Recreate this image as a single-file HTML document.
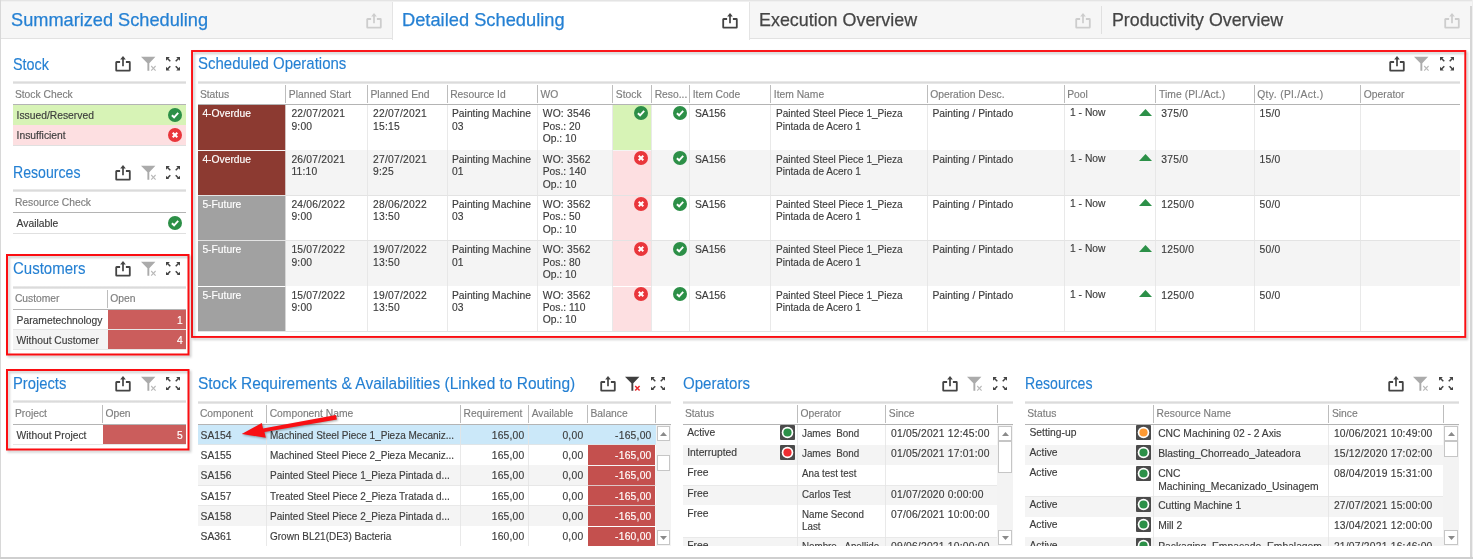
<!DOCTYPE html><html><head><meta charset="utf-8"><title>Detailed Scheduling</title><style>
html,body{margin:0;padding:0;background:#fff}body{font-family:"Liberation Sans", sans-serif;}#root{position:relative;width:1473px;height:559px;overflow:hidden;background:#fff;font-family:"Liberation Sans", sans-serif}#root div{box-sizing:border-box;position:absolute}.t,.h,.g{white-space:pre}.t{line-height:14px;font-size:10.3px;color:#3c3c3c;-webkit-text-stroke:.15px currentColor}.h{line-height:24px;font-size:17px;-webkit-text-stroke:.12px currentColor}.g{line-height:26px;font-size:19px;-webkit-text-stroke:.25px currentColor}#root svg{position:absolute}
</style></head><body><div id="root">
<div style="left:0px;top:0px;width:1473px;height:39px;background:#f6f6f6"></div>
<div style="left:0px;top:0px;width:1473px;height:1px;background:#e4e4e4"></div>
<div style="left:0px;top:1px;width:1473px;height:1px;background:#f0f0f0"></div>
<div style="left:0px;top:38px;width:1473px;height:1px;background:#e2e2e2"></div>
<div style="left:392px;top:2px;width:358px;height:38px;background:#fff;border-left:1px solid #e4e4e4;border-right:1px solid #e4e4e4"></div>
<div style="left:1101px;top:6px;width:1px;height:28px;background:#e0e0e0"></div>
<div style="left:1470px;top:6px;width:1.5px;height:552px;background:#d6d6d6"></div>
<div style="left:1471.5px;top:0px;width:2px;height:559px;background:#efefef"></div>
<div style="left:0px;top:0px;width:1px;height:559px;background:#d8d8d8"></div>
<div style="left:0px;top:557px;width:1473px;height:2px;background:#cfcfcf"></div>
<div class="g" style="top:7px;color:#2580d3;left:10.80px;transform:scaleX(0.957);transform-origin:left center;">Summarized Scheduling</div>
<svg style="left:366px;top:12.9px;opacity:1" width="17" height="17" viewBox="0 0 17 17"><path d="M5.1 6 H1.6 Q1.2 6 1.2 6.4 V14.2 Q1.2 14.6 1.6 14.6 H14.4 Q14.8 14.6 14.8 14.2 V6.4 Q14.8 6 14.4 6 H10.9" fill="none" stroke="#cdcdcd" stroke-width="1.8"/><path d="M8 2.2 V10.2" fill="none" stroke="#cdcdcd" stroke-width="1.7"/><path d="M8 0 L10.8 3.4 H5.2 Z" fill="#cdcdcd"/></svg>
<div class="g" style="top:7px;color:#2580d3;left:402.20px;transform:scaleX(0.962);transform-origin:left center;">Detailed Scheduling</div>
<svg style="left:722px;top:12.9px;opacity:1" width="17" height="17" viewBox="0 0 17 17"><path d="M5.1 6 H1.6 Q1.2 6 1.2 6.4 V14.2 Q1.2 14.6 1.6 14.6 H14.4 Q14.8 14.6 14.8 14.2 V6.4 Q14.8 6 14.4 6 H10.9" fill="none" stroke="#444" stroke-width="1.8"/><path d="M8 2.2 V10.2" fill="none" stroke="#444" stroke-width="1.7"/><path d="M8 0 L10.8 3.4 H5.2 Z" fill="#444"/></svg>
<div class="g" style="top:7px;color:#454545;left:758.60px;transform:scaleX(0.9416);transform-origin:left center;">Execution Overview</div>
<svg style="left:1075px;top:12.9px;opacity:1" width="17" height="17" viewBox="0 0 17 17"><path d="M5.1 6 H1.6 Q1.2 6 1.2 6.4 V14.2 Q1.2 14.6 1.6 14.6 H14.4 Q14.8 14.6 14.8 14.2 V6.4 Q14.8 6 14.4 6 H10.9" fill="none" stroke="#cdcdcd" stroke-width="1.8"/><path d="M8 2.2 V10.2" fill="none" stroke="#cdcdcd" stroke-width="1.7"/><path d="M8 0 L10.8 3.4 H5.2 Z" fill="#cdcdcd"/></svg>
<div class="g" style="top:7px;color:#454545;left:1111.80px;transform:scaleX(0.937);transform-origin:left center;">Productivity Overview</div>
<svg style="left:1444px;top:12.9px;opacity:1" width="17" height="17" viewBox="0 0 17 17"><path d="M5.1 6 H1.6 Q1.2 6 1.2 6.4 V14.2 Q1.2 14.6 1.6 14.6 H14.4 Q14.8 14.6 14.8 14.2 V6.4 Q14.8 6 14.4 6 H10.9" fill="none" stroke="#cdcdcd" stroke-width="1.8"/><path d="M8 2.2 V10.2" fill="none" stroke="#cdcdcd" stroke-width="1.7"/><path d="M8 0 L10.8 3.4 H5.2 Z" fill="#cdcdcd"/></svg>
<div class="h" style="top:53px;color:#2580d3;left:13.20px;transform:scaleX(0.844);transform-origin:left center;">Stock</div><svg style="left:114.9px;top:56.4px;opacity:1" width="17" height="17" viewBox="0 0 17 17"><path d="M5.1 6 H1.6 Q1.2 6 1.2 6.4 V14.2 Q1.2 14.6 1.6 14.6 H14.4 Q14.8 14.6 14.8 14.2 V6.4 Q14.8 6 14.4 6 H10.9" fill="none" stroke="#444" stroke-width="1.8"/><path d="M8 2.2 V10.2" fill="none" stroke="#444" stroke-width="1.7"/><path d="M8 0 L10.8 3.4 H5.2 Z" fill="#444"/></svg><svg style="left:140.5px;top:56.4px" width="17" height="17" viewBox="0 0 17 17"><path d="M0 0.8 H14.4 L8.3 7.2 V14.8 H6.4 V7.2 Z" fill="#ababab"/><path d="M10.2 10 L14.6 14.6 M14.6 10 L10.2 14.6" stroke="#b9b9b9" stroke-width="1.1" fill="none"/></svg><svg style="left:166.3px;top:57.3px" width="14" height="13.6" viewBox="0 0 14 13.6" fill="#444" stroke="#444" stroke-width="0"><g><path d="M0 0 H3.8 L0 3.8 Z"/><path d="M1 1 L4.3 4.3" stroke-width="1.5" fill="none"/></g><g transform="translate(14,0) scale(-1,1)"><path d="M0 0 H3.8 L0 3.8 Z"/><path d="M1 1 L4.3 4.3" stroke-width="1.5" fill="none"/></g><g transform="translate(0,13.6) scale(1,-1)"><path d="M0 0 H3.8 L0 3.8 Z"/><path d="M1 1 L4.3 4.3" stroke-width="1.5" fill="none"/></g><g transform="translate(14,13.6) scale(-1,-1)"><path d="M0 0 H3.8 L0 3.8 Z"/><path d="M1 1 L4.3 4.3" stroke-width="1.5" fill="none"/></g></svg><div style="left:13px;top:81px;width:173px;height:3px;background:linear-gradient(#f1f1f1,#dbdbdb 40%,#dbdbdb 60%,#eee)"></div><div style="left:13px;top:104px;width:173px;height:1px;background:#b4b4b4"></div><div class="t" style="top:88px;color:#7d7d7d;left:14.90px;">Stock Check</div>
<div style="left:13px;top:105px;width:173px;height:20px;background:#d7f3b6"></div>
<div style="left:13px;top:125px;width:173px;height:20px;background:#fddfe1"></div>
<div style="left:13px;top:145px;width:173px;height:1px;background:#e0e0e0"></div>
<div class="t" style="top:109px;left:16.60px;">Issued/Reserved</div>
<div class="t" style="top:129px;left:16.60px;">Insufficient</div>
<svg style="left:168px;top:107.6px" width="14" height="14" viewBox="0 0 14 14"><circle cx="7" cy="7" r="7" fill="#2c8f47"/><path d="M3.9 7.2 L6.1 9.3 L10.2 4.9" stroke="#fff" stroke-width="1.9" fill="none"/></svg>
<svg style="left:168px;top:127.9px" width="14" height="14" viewBox="0 0 14 14"><circle cx="7" cy="7" r="7" fill="#e9363b"/><path d="M4.7 4.7 L9.3 9.3 M9.3 4.7 L4.7 9.3" stroke="#fff" stroke-width="2" fill="none"/></svg>
<div class="h" style="top:161px;color:#2580d3;left:13.20px;transform:scaleX(0.83);transform-origin:left center;">Resources</div><svg style="left:114.9px;top:164.6px;opacity:1" width="17" height="17" viewBox="0 0 17 17"><path d="M5.1 6 H1.6 Q1.2 6 1.2 6.4 V14.2 Q1.2 14.6 1.6 14.6 H14.4 Q14.8 14.6 14.8 14.2 V6.4 Q14.8 6 14.4 6 H10.9" fill="none" stroke="#444" stroke-width="1.8"/><path d="M8 2.2 V10.2" fill="none" stroke="#444" stroke-width="1.7"/><path d="M8 0 L10.8 3.4 H5.2 Z" fill="#444"/></svg><svg style="left:140.5px;top:164.6px" width="17" height="17" viewBox="0 0 17 17"><path d="M0 0.8 H14.4 L8.3 7.2 V14.8 H6.4 V7.2 Z" fill="#ababab"/><path d="M10.2 10 L14.6 14.6 M14.6 10 L10.2 14.6" stroke="#b9b9b9" stroke-width="1.1" fill="none"/></svg><svg style="left:166.3px;top:165.5px" width="14" height="13.6" viewBox="0 0 14 13.6" fill="#444" stroke="#444" stroke-width="0"><g><path d="M0 0 H3.8 L0 3.8 Z"/><path d="M1 1 L4.3 4.3" stroke-width="1.5" fill="none"/></g><g transform="translate(14,0) scale(-1,1)"><path d="M0 0 H3.8 L0 3.8 Z"/><path d="M1 1 L4.3 4.3" stroke-width="1.5" fill="none"/></g><g transform="translate(0,13.6) scale(1,-1)"><path d="M0 0 H3.8 L0 3.8 Z"/><path d="M1 1 L4.3 4.3" stroke-width="1.5" fill="none"/></g><g transform="translate(14,13.6) scale(-1,-1)"><path d="M0 0 H3.8 L0 3.8 Z"/><path d="M1 1 L4.3 4.3" stroke-width="1.5" fill="none"/></g></svg><div style="left:13px;top:189px;width:173px;height:3px;background:linear-gradient(#f1f1f1,#dbdbdb 40%,#dbdbdb 60%,#eee)"></div><div style="left:13px;top:212px;width:173px;height:1px;background:#b4b4b4"></div><div class="t" style="top:196px;color:#7d7d7d;left:14.90px;">Resource Check</div>
<div class="t" style="top:217px;left:16.60px;">Available</div>
<svg style="left:168px;top:215.8px" width="14" height="14" viewBox="0 0 14 14"><circle cx="7" cy="7" r="7" fill="#2c8f47"/><path d="M3.9 7.2 L6.1 9.3 L10.2 4.9" stroke="#fff" stroke-width="1.9" fill="none"/></svg>
<div style="left:13px;top:233px;width:173px;height:1px;background:#e0e0e0"></div>
<div class="h" style="top:257px;color:#2580d3;left:13.20px;transform:scaleX(0.882);transform-origin:left center;">Customers</div><svg style="left:114.9px;top:260.9px;opacity:1" width="17" height="17" viewBox="0 0 17 17"><path d="M5.1 6 H1.6 Q1.2 6 1.2 6.4 V14.2 Q1.2 14.6 1.6 14.6 H14.4 Q14.8 14.6 14.8 14.2 V6.4 Q14.8 6 14.4 6 H10.9" fill="none" stroke="#444" stroke-width="1.8"/><path d="M8 2.2 V10.2" fill="none" stroke="#444" stroke-width="1.7"/><path d="M8 0 L10.8 3.4 H5.2 Z" fill="#444"/></svg><svg style="left:140.5px;top:260.9px" width="17" height="17" viewBox="0 0 17 17"><path d="M0 0.8 H14.4 L8.3 7.2 V14.8 H6.4 V7.2 Z" fill="#ababab"/><path d="M10.2 10 L14.6 14.6 M14.6 10 L10.2 14.6" stroke="#b9b9b9" stroke-width="1.1" fill="none"/></svg><svg style="left:166.3px;top:261.8px" width="14" height="13.6" viewBox="0 0 14 13.6" fill="#444" stroke="#444" stroke-width="0"><g><path d="M0 0 H3.8 L0 3.8 Z"/><path d="M1 1 L4.3 4.3" stroke-width="1.5" fill="none"/></g><g transform="translate(14,0) scale(-1,1)"><path d="M0 0 H3.8 L0 3.8 Z"/><path d="M1 1 L4.3 4.3" stroke-width="1.5" fill="none"/></g><g transform="translate(0,13.6) scale(1,-1)"><path d="M0 0 H3.8 L0 3.8 Z"/><path d="M1 1 L4.3 4.3" stroke-width="1.5" fill="none"/></g><g transform="translate(14,13.6) scale(-1,-1)"><path d="M0 0 H3.8 L0 3.8 Z"/><path d="M1 1 L4.3 4.3" stroke-width="1.5" fill="none"/></g></svg><div style="left:13px;top:286px;width:173px;height:3px;background:linear-gradient(#f1f1f1,#dbdbdb 40%,#dbdbdb 60%,#eee)"></div><div style="left:13px;top:309px;width:173px;height:1px;background:#b4b4b4"></div><div class="t" style="top:292px;color:#7d7d7d;left:14.90px;">Customer</div><div style="left:106.7px;top:289.9px;width:1px;height:18px;background:#bdbdbd"></div><div class="t" style="top:292px;color:#7d7d7d;left:110.20px;">Open</div><div style="left:13px;top:310px;width:173px;height:20px;background:#fff"></div><div style="left:107.5px;top:310px;width:78.5px;height:19px;background:#cb5d5c"></div><div style="left:13px;top:329px;width:173px;height:1px;background:#e6e6e6"></div><div class="t" style="top:314px;left:16.60px;">Parametechnology</div><div class="t" style="top:314px;color:#fff;right:1290.20px;text-align:right;">1</div><div style="left:13px;top:330px;width:173px;height:20px;background:#f4f4f4"></div><div style="left:107.5px;top:330px;width:78.5px;height:19px;background:#cb5d5c"></div><div style="left:13px;top:349px;width:173px;height:1px;background:#e6e6e6"></div><div class="t" style="top:334px;left:16.60px;">Without Customer</div><div class="t" style="top:334px;color:#fff;right:1290.20px;text-align:right;">4</div>
<div class="h" style="top:372px;color:#2580d3;left:13.20px;transform:scaleX(0.869);transform-origin:left center;">Projects</div><svg style="left:114.9px;top:375.79999999999995px;opacity:1" width="17" height="17" viewBox="0 0 17 17"><path d="M5.1 6 H1.6 Q1.2 6 1.2 6.4 V14.2 Q1.2 14.6 1.6 14.6 H14.4 Q14.8 14.6 14.8 14.2 V6.4 Q14.8 6 14.4 6 H10.9" fill="none" stroke="#444" stroke-width="1.8"/><path d="M8 2.2 V10.2" fill="none" stroke="#444" stroke-width="1.7"/><path d="M8 0 L10.8 3.4 H5.2 Z" fill="#444"/></svg><svg style="left:140.5px;top:375.79999999999995px" width="17" height="17" viewBox="0 0 17 17"><path d="M0 0.8 H14.4 L8.3 7.2 V14.8 H6.4 V7.2 Z" fill="#ababab"/><path d="M10.2 10 L14.6 14.6 M14.6 10 L10.2 14.6" stroke="#b9b9b9" stroke-width="1.1" fill="none"/></svg><svg style="left:166.3px;top:376.7px" width="14" height="13.6" viewBox="0 0 14 13.6" fill="#444" stroke="#444" stroke-width="0"><g><path d="M0 0 H3.8 L0 3.8 Z"/><path d="M1 1 L4.3 4.3" stroke-width="1.5" fill="none"/></g><g transform="translate(14,0) scale(-1,1)"><path d="M0 0 H3.8 L0 3.8 Z"/><path d="M1 1 L4.3 4.3" stroke-width="1.5" fill="none"/></g><g transform="translate(0,13.6) scale(1,-1)"><path d="M0 0 H3.8 L0 3.8 Z"/><path d="M1 1 L4.3 4.3" stroke-width="1.5" fill="none"/></g><g transform="translate(14,13.6) scale(-1,-1)"><path d="M0 0 H3.8 L0 3.8 Z"/><path d="M1 1 L4.3 4.3" stroke-width="1.5" fill="none"/></g></svg><div style="left:13px;top:400px;width:173px;height:3px;background:linear-gradient(#f1f1f1,#dbdbdb 40%,#dbdbdb 60%,#eee)"></div><div style="left:13px;top:424px;width:173px;height:1px;background:#b4b4b4"></div><div class="t" style="top:407px;color:#7d7d7d;left:14.90px;">Project</div><div style="left:101.9px;top:404.79999999999995px;width:1px;height:18px;background:#bdbdbd"></div><div class="t" style="top:407px;color:#7d7d7d;left:105.40px;">Open</div><div style="left:13px;top:425px;width:173px;height:20px;background:#fff"></div><div style="left:102.7px;top:425px;width:83.3px;height:19px;background:#cb5d5c"></div><div style="left:13px;top:444px;width:173px;height:1px;background:#e6e6e6"></div><div class="t" style="top:429px;left:16.60px;">Without Project</div><div class="t" style="top:429px;color:#fff;right:1290.20px;text-align:right;">5</div>
<div class="h" style="top:52px;color:#2580d3;left:197.60px;transform:scaleX(0.8815);transform-origin:left center;">Scheduled Operations</div><svg style="left:1388.6000000000001px;top:56.4px;opacity:1" width="17" height="17" viewBox="0 0 17 17"><path d="M5.1 6 H1.6 Q1.2 6 1.2 6.4 V14.2 Q1.2 14.6 1.6 14.6 H14.4 Q14.8 14.6 14.8 14.2 V6.4 Q14.8 6 14.4 6 H10.9" fill="none" stroke="#444" stroke-width="1.8"/><path d="M8 2.2 V10.2" fill="none" stroke="#444" stroke-width="1.7"/><path d="M8 0 L10.8 3.4 H5.2 Z" fill="#444"/></svg><svg style="left:1414.2px;top:56.4px" width="17" height="17" viewBox="0 0 17 17"><path d="M0 0.8 H14.4 L8.3 7.2 V14.8 H6.4 V7.2 Z" fill="#ababab"/><path d="M10.2 10 L14.6 14.6 M14.6 10 L10.2 14.6" stroke="#b9b9b9" stroke-width="1.1" fill="none"/></svg><svg style="left:1440.0px;top:57.3px" width="14" height="13.6" viewBox="0 0 14 13.6" fill="#444" stroke="#444" stroke-width="0"><g><path d="M0 0 H3.8 L0 3.8 Z"/><path d="M1 1 L4.3 4.3" stroke-width="1.5" fill="none"/></g><g transform="translate(14,0) scale(-1,1)"><path d="M0 0 H3.8 L0 3.8 Z"/><path d="M1 1 L4.3 4.3" stroke-width="1.5" fill="none"/></g><g transform="translate(0,13.6) scale(1,-1)"><path d="M0 0 H3.8 L0 3.8 Z"/><path d="M1 1 L4.3 4.3" stroke-width="1.5" fill="none"/></g><g transform="translate(14,13.6) scale(-1,-1)"><path d="M0 0 H3.8 L0 3.8 Z"/><path d="M1 1 L4.3 4.3" stroke-width="1.5" fill="none"/></g></svg>
<div style="left:198px;top:81px;width:1261.7px;height:3px;background:linear-gradient(#f1f1f1,#dbdbdb 40%,#dbdbdb 60%,#eee)"></div><div style="left:198px;top:104px;width:1261.7px;height:1px;background:#b4b4b4"></div><div class="t" style="top:88px;color:#7d7d7d;left:199.90px;">Status</div><div style="left:285.3px;top:85.4px;width:1px;height:18px;background:#bdbdbd"></div><div class="t" style="top:88px;color:#7d7d7d;left:288.80px;">Planned Start</div><div style="left:367.0px;top:85.4px;width:1px;height:18px;background:#bdbdbd"></div><div class="t" style="top:88px;color:#7d7d7d;left:370.50px;">Planned End</div><div style="left:446.7px;top:85.4px;width:1px;height:18px;background:#bdbdbd"></div><div class="t" style="top:88px;color:#7d7d7d;left:450.20px;">Resource Id</div><div style="left:537.0px;top:85.4px;width:1px;height:18px;background:#bdbdbd"></div><div class="t" style="top:88px;color:#7d7d7d;left:540.50px;">WO</div><div style="left:612.3px;top:85.4px;width:1px;height:18px;background:#bdbdbd"></div><div class="t" style="top:88px;color:#7d7d7d;left:615.80px;">Stock</div><div style="left:651.2px;top:85.4px;width:1px;height:18px;background:#bdbdbd"></div><div class="t" style="top:88px;color:#7d7d7d;left:654.70px;">Reso...</div><div style="left:689.2px;top:85.4px;width:1px;height:18px;background:#bdbdbd"></div><div class="t" style="top:88px;color:#7d7d7d;left:692.70px;">Item Code</div><div style="left:770.3px;top:85.4px;width:1px;height:18px;background:#bdbdbd"></div><div class="t" style="top:88px;color:#7d7d7d;left:773.80px;">Item Name</div><div style="left:926.7px;top:85.4px;width:1px;height:18px;background:#bdbdbd"></div><div class="t" style="top:88px;color:#7d7d7d;left:930.20px;">Operation Desc.</div><div style="left:1063.7px;top:85.4px;width:1px;height:18px;background:#bdbdbd"></div><div class="t" style="top:88px;color:#7d7d7d;left:1067.20px;">Pool</div><div style="left:1155.4px;top:85.4px;width:1px;height:18px;background:#bdbdbd"></div><div class="t" style="top:88px;color:#7d7d7d;letter-spacing:0.1px;left:1158.90px;">Time (Pl./Act.)</div><div style="left:1253.7px;top:85.4px;width:1px;height:18px;background:#bdbdbd"></div><div class="t" style="top:88px;color:#7d7d7d;letter-spacing:0.4px;left:1257.20px;">Qty. (Pl./Act.)</div><div style="left:1360.3px;top:85.4px;width:1px;height:18px;background:#bdbdbd"></div><div class="t" style="top:88px;color:#7d7d7d;left:1363.80px;">Operator</div>
<div style="left:198px;top:105.0px;width:1261.7px;height:45.3px;background:#fff"></div>
<div style="left:198px;top:105.4px;width:87.60000000000001px;height:44.699999999999996px;background:#8c3a31"></div>
<div style="left:613.0999999999999px;top:105.4px;width:38.30000000000009px;height:44.699999999999996px;background:#d7f3b6"></div>
<div class="t" style="top:107px;color:#fff;left:202.40px;">4-Overdue</div>
<div class="t" style="top:107px;letter-spacing:0.22px;left:291.40px;">22/07/2021</div>
<div class="t" style="top:120px;letter-spacing:0.22px;left:291.40px;">9:00</div>
<div class="t" style="top:107px;letter-spacing:0.22px;left:373.10px;">22/07/2021</div>
<div class="t" style="top:120px;letter-spacing:0.22px;left:373.10px;">15:15</div>
<div class="t" style="top:107px;left:452.00px;">Painting Machine</div>
<div class="t" style="top:120px;left:452.00px;">03</div>
<div class="t" style="top:107px;letter-spacing:0.22px;left:542.70px;">WO: 3546</div>
<div class="t" style="top:120px;left:542.70px;">Pos.: 20</div>
<div class="t" style="top:132px;left:542.70px;">Op.: 10</div>
<svg style="left:634.3px;top:106.0px" width="14" height="14" viewBox="0 0 14 14"><circle cx="7" cy="7" r="7" fill="#2c8f47"/><path d="M3.9 7.2 L6.1 9.3 L10.2 4.9" stroke="#fff" stroke-width="1.9" fill="none"/></svg>
<svg style="left:672.7px;top:106.0px" width="14" height="14" viewBox="0 0 14 14"><circle cx="7" cy="7" r="7" fill="#2c8f47"/><path d="M3.9 7.2 L6.1 9.3 L10.2 4.9" stroke="#fff" stroke-width="1.9" fill="none"/></svg>
<div class="t" style="top:107px;left:694.90px;">SA156</div>
<div class="t" style="top:107px;left:776.00px;transform:scaleX(0.975);transform-origin:left center;">Painted Steel Piece 1_Pieza</div>
<div class="t" style="top:120px;left:776.00px;transform:scaleX(0.975);transform-origin:left center;">Pintada de Acero 1</div>
<div class="t" style="top:107px;left:932.40px;">Painting / Pintado</div>
<div class="t" style="top:106px;left:1070.00px;">1 - Now</div>
<svg style="left:1138.9px;top:108.8px" width="13" height="7" viewBox="0 0 13 7"><path d="M6.5 0 L13 7 H0 Z" fill="#2c9048"/></svg>
<div class="t" style="top:107px;letter-spacing:0.22px;left:1161.30px;">375/0</div>
<div class="t" style="top:107px;letter-spacing:0.22px;left:1259.60px;">15/0</div>
<div style="left:198px;top:149.8px;width:1261.7px;height:1px;background:#e3e3e3"></div>
<div style="left:198px;top:150.3px;width:1261.7px;height:45.3px;background:#f4f4f4"></div>
<div style="left:198px;top:150.70000000000002px;width:87.60000000000001px;height:44.699999999999996px;background:#8c3a31"></div>
<div style="left:613.0999999999999px;top:150.70000000000002px;width:38.30000000000009px;height:44.699999999999996px;background:#fddfe1"></div>
<div class="t" style="top:153px;color:#fff;left:202.40px;">4-Overdue</div>
<div class="t" style="top:153px;letter-spacing:0.22px;left:291.40px;">26/07/2021</div>
<div class="t" style="top:165px;letter-spacing:0.22px;left:291.40px;">11:10</div>
<div class="t" style="top:153px;letter-spacing:0.22px;left:373.10px;">27/07/2021</div>
<div class="t" style="top:165px;letter-spacing:0.22px;left:373.10px;">9:25</div>
<div class="t" style="top:153px;left:452.00px;">Painting Machine</div>
<div class="t" style="top:165px;left:452.00px;">01</div>
<div class="t" style="top:153px;letter-spacing:0.22px;left:542.70px;">WO: 3562</div>
<div class="t" style="top:165px;left:542.70px;">Pos.: 140</div>
<div class="t" style="top:178px;left:542.70px;">Op.: 10</div>
<svg style="left:634.3px;top:151.3px" width="14" height="14" viewBox="0 0 14 14"><circle cx="7" cy="7" r="7" fill="#e9363b"/><path d="M4.7 4.7 L9.3 9.3 M9.3 4.7 L4.7 9.3" stroke="#fff" stroke-width="2" fill="none"/></svg>
<svg style="left:672.7px;top:151.3px" width="14" height="14" viewBox="0 0 14 14"><circle cx="7" cy="7" r="7" fill="#2c8f47"/><path d="M3.9 7.2 L6.1 9.3 L10.2 4.9" stroke="#fff" stroke-width="1.9" fill="none"/></svg>
<div class="t" style="top:153px;left:694.90px;">SA156</div>
<div class="t" style="top:153px;left:776.00px;transform:scaleX(0.975);transform-origin:left center;">Painted Steel Piece 1_Pieza</div>
<div class="t" style="top:165px;left:776.00px;transform:scaleX(0.975);transform-origin:left center;">Pintada de Acero 1</div>
<div class="t" style="top:153px;left:932.40px;">Painting / Pintado</div>
<div class="t" style="top:152px;left:1070.00px;">1 - Now</div>
<svg style="left:1138.9px;top:154.10000000000002px" width="13" height="7" viewBox="0 0 13 7"><path d="M6.5 0 L13 7 H0 Z" fill="#2c9048"/></svg>
<div class="t" style="top:153px;letter-spacing:0.22px;left:1161.30px;">375/0</div>
<div class="t" style="top:153px;letter-spacing:0.22px;left:1259.60px;">15/0</div>
<div style="left:198px;top:195.10000000000002px;width:1261.7px;height:1px;background:#e3e3e3"></div>
<div style="left:198px;top:195.6px;width:1261.7px;height:45.3px;background:#fff"></div>
<div style="left:198px;top:196.0px;width:87.60000000000001px;height:44.699999999999996px;background:#a1a1a1"></div>
<div style="left:613.0999999999999px;top:196.0px;width:38.30000000000009px;height:44.699999999999996px;background:#fddfe1"></div>
<div class="t" style="top:198px;color:#fff;left:202.40px;">5-Future</div>
<div class="t" style="top:198px;letter-spacing:0.22px;left:291.40px;">24/06/2022</div>
<div class="t" style="top:210px;letter-spacing:0.22px;left:291.40px;">9:00</div>
<div class="t" style="top:198px;letter-spacing:0.22px;left:373.10px;">28/06/2022</div>
<div class="t" style="top:210px;letter-spacing:0.22px;left:373.10px;">13:50</div>
<div class="t" style="top:198px;left:452.00px;">Painting Machine</div>
<div class="t" style="top:210px;left:452.00px;">03</div>
<div class="t" style="top:198px;letter-spacing:0.22px;left:542.70px;">WO: 3562</div>
<div class="t" style="top:210px;left:542.70px;">Pos.: 50</div>
<div class="t" style="top:223px;left:542.70px;">Op.: 10</div>
<svg style="left:634.3px;top:196.6px" width="14" height="14" viewBox="0 0 14 14"><circle cx="7" cy="7" r="7" fill="#e9363b"/><path d="M4.7 4.7 L9.3 9.3 M9.3 4.7 L4.7 9.3" stroke="#fff" stroke-width="2" fill="none"/></svg>
<svg style="left:672.7px;top:196.6px" width="14" height="14" viewBox="0 0 14 14"><circle cx="7" cy="7" r="7" fill="#2c8f47"/><path d="M3.9 7.2 L6.1 9.3 L10.2 4.9" stroke="#fff" stroke-width="1.9" fill="none"/></svg>
<div class="t" style="top:198px;left:694.90px;">SA156</div>
<div class="t" style="top:198px;left:776.00px;transform:scaleX(0.975);transform-origin:left center;">Painted Steel Piece 1_Pieza</div>
<div class="t" style="top:210px;left:776.00px;transform:scaleX(0.975);transform-origin:left center;">Pintada de Acero 1</div>
<div class="t" style="top:198px;left:932.40px;">Painting / Pintado</div>
<div class="t" style="top:197px;left:1070.00px;">1 - Now</div>
<svg style="left:1138.9px;top:199.4px" width="13" height="7" viewBox="0 0 13 7"><path d="M6.5 0 L13 7 H0 Z" fill="#2c9048"/></svg>
<div class="t" style="top:198px;letter-spacing:0.22px;left:1161.30px;">1250/0</div>
<div class="t" style="top:198px;letter-spacing:0.22px;left:1259.60px;">50/0</div>
<div style="left:198px;top:240.39999999999998px;width:1261.7px;height:1px;background:#e3e3e3"></div>
<div style="left:198px;top:240.89999999999998px;width:1261.7px;height:45.3px;background:#f4f4f4"></div>
<div style="left:198px;top:241.29999999999998px;width:87.60000000000001px;height:44.699999999999996px;background:#a1a1a1"></div>
<div style="left:613.0999999999999px;top:241.29999999999998px;width:38.30000000000009px;height:44.699999999999996px;background:#fddfe1"></div>
<div class="t" style="top:243px;color:#fff;left:202.40px;">5-Future</div>
<div class="t" style="top:243px;letter-spacing:0.22px;left:291.40px;">15/07/2022</div>
<div class="t" style="top:256px;letter-spacing:0.22px;left:291.40px;">9:00</div>
<div class="t" style="top:243px;letter-spacing:0.22px;left:373.10px;">19/07/2022</div>
<div class="t" style="top:256px;letter-spacing:0.22px;left:373.10px;">13:50</div>
<div class="t" style="top:243px;left:452.00px;">Painting Machine</div>
<div class="t" style="top:256px;left:452.00px;">01</div>
<div class="t" style="top:243px;letter-spacing:0.22px;left:542.70px;">WO: 3562</div>
<div class="t" style="top:256px;left:542.70px;">Pos.: 80</div>
<div class="t" style="top:268px;left:542.70px;">Op.: 10</div>
<svg style="left:634.3px;top:241.89999999999998px" width="14" height="14" viewBox="0 0 14 14"><circle cx="7" cy="7" r="7" fill="#e9363b"/><path d="M4.7 4.7 L9.3 9.3 M9.3 4.7 L4.7 9.3" stroke="#fff" stroke-width="2" fill="none"/></svg>
<svg style="left:672.7px;top:241.89999999999998px" width="14" height="14" viewBox="0 0 14 14"><circle cx="7" cy="7" r="7" fill="#2c8f47"/><path d="M3.9 7.2 L6.1 9.3 L10.2 4.9" stroke="#fff" stroke-width="1.9" fill="none"/></svg>
<div class="t" style="top:243px;left:694.90px;">SA156</div>
<div class="t" style="top:243px;left:776.00px;transform:scaleX(0.975);transform-origin:left center;">Painted Steel Piece 1_Pieza</div>
<div class="t" style="top:256px;left:776.00px;transform:scaleX(0.975);transform-origin:left center;">Pintada de Acero 1</div>
<div class="t" style="top:243px;left:932.40px;">Painting / Pintado</div>
<div class="t" style="top:242px;left:1070.00px;">1 - Now</div>
<svg style="left:1138.9px;top:244.7px" width="13" height="7" viewBox="0 0 13 7"><path d="M6.5 0 L13 7 H0 Z" fill="#2c9048"/></svg>
<div class="t" style="top:243px;letter-spacing:0.22px;left:1161.30px;">1250/0</div>
<div class="t" style="top:243px;letter-spacing:0.22px;left:1259.60px;">50/0</div>
<div style="left:198px;top:285.7px;width:1261.7px;height:1px;background:#e3e3e3"></div>
<div style="left:198px;top:286.2px;width:1261.7px;height:45.3px;background:#fff"></div>
<div style="left:198px;top:286.59999999999997px;width:87.60000000000001px;height:44.699999999999996px;background:#a1a1a1"></div>
<div style="left:613.0999999999999px;top:286.59999999999997px;width:38.30000000000009px;height:44.699999999999996px;background:#fddfe1"></div>
<div class="t" style="top:289px;color:#fff;left:202.40px;">5-Future</div>
<div class="t" style="top:289px;letter-spacing:0.22px;left:291.40px;">15/07/2022</div>
<div class="t" style="top:301px;letter-spacing:0.22px;left:291.40px;">9:00</div>
<div class="t" style="top:289px;letter-spacing:0.22px;left:373.10px;">19/07/2022</div>
<div class="t" style="top:301px;letter-spacing:0.22px;left:373.10px;">13:50</div>
<div class="t" style="top:289px;left:452.00px;">Painting Machine</div>
<div class="t" style="top:301px;left:452.00px;">03</div>
<div class="t" style="top:289px;letter-spacing:0.22px;left:542.70px;">WO: 3562</div>
<div class="t" style="top:301px;left:542.70px;">Pos.: 110</div>
<div class="t" style="top:313px;left:542.70px;">Op.: 10</div>
<svg style="left:634.3px;top:287.2px" width="14" height="14" viewBox="0 0 14 14"><circle cx="7" cy="7" r="7" fill="#e9363b"/><path d="M4.7 4.7 L9.3 9.3 M9.3 4.7 L4.7 9.3" stroke="#fff" stroke-width="2" fill="none"/></svg>
<svg style="left:672.7px;top:287.2px" width="14" height="14" viewBox="0 0 14 14"><circle cx="7" cy="7" r="7" fill="#2c8f47"/><path d="M3.9 7.2 L6.1 9.3 L10.2 4.9" stroke="#fff" stroke-width="1.9" fill="none"/></svg>
<div class="t" style="top:289px;left:694.90px;">SA156</div>
<div class="t" style="top:289px;left:776.00px;transform:scaleX(0.975);transform-origin:left center;">Painted Steel Piece 1_Pieza</div>
<div class="t" style="top:301px;left:776.00px;transform:scaleX(0.975);transform-origin:left center;">Pintada de Acero 1</div>
<div class="t" style="top:289px;left:932.40px;">Painting / Pintado</div>
<div class="t" style="top:288px;left:1070.00px;">1 - Now</div>
<svg style="left:1138.9px;top:290.0px" width="13" height="7" viewBox="0 0 13 7"><path d="M6.5 0 L13 7 H0 Z" fill="#2c9048"/></svg>
<div class="t" style="top:289px;letter-spacing:0.22px;left:1161.30px;">1250/0</div>
<div class="t" style="top:289px;letter-spacing:0.22px;left:1259.60px;">50/0</div>
<div style="left:198px;top:331.0px;width:1261.7px;height:1px;background:#e3e3e3"></div>
<div style="left:285.3px;top:105px;width:1px;height:226.5px;background:#e3e3e3;opacity:.8"></div>
<div style="left:367.0px;top:105px;width:1px;height:226.5px;background:#e3e3e3;opacity:.8"></div>
<div style="left:446.7px;top:105px;width:1px;height:226.5px;background:#e3e3e3;opacity:.8"></div>
<div style="left:537.0px;top:105px;width:1px;height:226.5px;background:#e3e3e3;opacity:.8"></div>
<div style="left:612.3px;top:105px;width:1px;height:226.5px;background:#e3e3e3;opacity:.8"></div>
<div style="left:651.2px;top:105px;width:1px;height:226.5px;background:#e3e3e3;opacity:.8"></div>
<div style="left:689.2px;top:105px;width:1px;height:226.5px;background:#e3e3e3;opacity:.8"></div>
<div style="left:770.3px;top:105px;width:1px;height:226.5px;background:#e3e3e3;opacity:.8"></div>
<div style="left:926.7px;top:105px;width:1px;height:226.5px;background:#e3e3e3;opacity:.8"></div>
<div style="left:1063.7px;top:105px;width:1px;height:226.5px;background:#e3e3e3;opacity:.8"></div>
<div style="left:1155.4px;top:105px;width:1px;height:226.5px;background:#e3e3e3;opacity:.8"></div>
<div style="left:1253.7px;top:105px;width:1px;height:226.5px;background:#e3e3e3;opacity:.8"></div>
<div style="left:1360.3px;top:105px;width:1px;height:226.5px;background:#e3e3e3;opacity:.8"></div>
<svg style="left:185.9px;top:44.95px;overflow:visible" width="1285.3" height="297.95" viewBox="0 0 1285.3 297.95"><rect x="7.7" y="7.9" width="1273.3" height="285.95" fill="none" stroke="#000" stroke-opacity=".2" stroke-width="2.2" style="filter:blur(.8px)"/><rect x="6" y="6" width="1273.3" height="285.95" fill="none" stroke="#fb0d11" stroke-width="1.9"/></svg>
<svg style="left:1px;top:249.4px;overflow:visible" width="193.5" height="111.49999999999997" viewBox="0 0 193.5 111.49999999999997"><rect x="7.7" y="7.9" width="181.5" height="99.49999999999997" fill="none" stroke="#000" stroke-opacity=".2" stroke-width="2.2" style="filter:blur(.8px)"/><rect x="6" y="6" width="181.5" height="99.49999999999997" fill="none" stroke="#fb0d11" stroke-width="2"/></svg>
<svg style="left:1px;top:363.6px;overflow:visible" width="193.5" height="91.5" viewBox="0 0 193.5 91.5"><rect x="7.7" y="7.9" width="181.5" height="79.5" fill="none" stroke="#000" stroke-opacity=".2" stroke-width="2.2" style="filter:blur(.8px)"/><rect x="6" y="6" width="181.5" height="79.5" fill="none" stroke="#fb0d11" stroke-width="2"/></svg>
<div class="h" style="top:372px;color:#2580d3;left:197.60px;transform:scaleX(0.91);transform-origin:left center;">Stock Requirements &amp; Availabilities (Linked to Routing)</div><svg style="left:599.5999999999999px;top:375.79999999999995px;opacity:1" width="17" height="17" viewBox="0 0 17 17"><path d="M5.1 6 H1.6 Q1.2 6 1.2 6.4 V14.2 Q1.2 14.6 1.6 14.6 H14.4 Q14.8 14.6 14.8 14.2 V6.4 Q14.8 6 14.4 6 H10.9" fill="none" stroke="#444" stroke-width="1.8"/><path d="M8 2.2 V10.2" fill="none" stroke="#444" stroke-width="1.7"/><path d="M8 0 L10.8 3.4 H5.2 Z" fill="#444"/></svg><svg style="left:625.1999999999999px;top:375.79999999999995px" width="17" height="17" viewBox="0 0 17 17"><path d="M0 0.8 H14.4 L8.3 7.2 V14.8 H6.4 V7.2 Z" fill="#3f3f3f"/><path d="M10.2 10 L14.6 14.6 M14.6 10 L10.2 14.6" stroke="#e8282c" stroke-width="1.5" fill="none"/></svg><svg style="left:650.9999999999999px;top:376.7px" width="14" height="13.6" viewBox="0 0 14 13.6" fill="#444" stroke="#444" stroke-width="0"><g><path d="M0 0 H3.8 L0 3.8 Z"/><path d="M1 1 L4.3 4.3" stroke-width="1.5" fill="none"/></g><g transform="translate(14,0) scale(-1,1)"><path d="M0 0 H3.8 L0 3.8 Z"/><path d="M1 1 L4.3 4.3" stroke-width="1.5" fill="none"/></g><g transform="translate(0,13.6) scale(1,-1)"><path d="M0 0 H3.8 L0 3.8 Z"/><path d="M1 1 L4.3 4.3" stroke-width="1.5" fill="none"/></g><g transform="translate(14,13.6) scale(-1,-1)"><path d="M0 0 H3.8 L0 3.8 Z"/><path d="M1 1 L4.3 4.3" stroke-width="1.5" fill="none"/></g></svg>
<div style="left:198px;top:401px;width:473.29999999999995px;height:3px;background:linear-gradient(#f1f1f1,#dbdbdb 40%,#dbdbdb 60%,#eee)"></div><div style="left:198px;top:424px;width:473.29999999999995px;height:1px;background:#b4b4b4"></div><div class="t" style="top:407px;color:#7d7d7d;left:199.90px;">Component</div><div style="left:266.2px;top:405.2px;width:1px;height:18px;background:#bdbdbd"></div><div class="t" style="top:407px;color:#7d7d7d;left:269.70px;">Component Name</div><div style="left:460.0px;top:405.2px;width:1px;height:18px;background:#bdbdbd"></div><div class="t" style="top:407px;color:#7d7d7d;left:463.50px;">Requirement</div><div style="left:528.2px;top:405.2px;width:1px;height:18px;background:#bdbdbd"></div><div class="t" style="top:407px;color:#7d7d7d;left:531.70px;">Available</div><div style="left:587.0px;top:405.2px;width:1px;height:18px;background:#bdbdbd"></div><div class="t" style="top:407px;color:#7d7d7d;left:590.50px;">Balance</div>
<div style="left:655.0px;top:405.2px;width:1px;height:18px;background:#bdbdbd"></div>
<div style="position:absolute;left:0;top:0;width:1473px;height:546px;overflow:hidden">
<div style="left:198px;top:424.6px;width:457.5px;height:20.33px;background:#cbe8f9"></div>
<div style="left:198px;top:444.43px;width:457.5px;height:1px;background:#e3e3e3;opacity:.8"></div>
<div class="t" style="top:429px;left:200.60px;">SA154</div>
<div class="t" style="top:429px;left:270.30px;transform:scaleX(0.972);transform-origin:left center;">Machined Steel Piece 1_Pieza Mecaniz...</div>
<div class="t" style="top:429px;letter-spacing:0.22px;right:948.48px;text-align:right;">165,00</div>
<div class="t" style="top:429px;letter-spacing:0.22px;right:889.68px;text-align:right;">0,00</div>
<div class="t" style="top:429px;letter-spacing:0.22px;right:821.48px;text-align:right;">-165,00</div>
<div style="left:198px;top:444.93px;width:457.5px;height:20.33px;background:#fff"></div>
<div style="left:587.8px;top:445.23px;width:67.7px;height:20.029999999999998px;background:#c4504e"></div>
<div style="left:198px;top:464.76px;width:457.5px;height:1px;background:#e3e3e3;opacity:.8"></div>
<div class="t" style="top:449px;left:200.60px;">SA155</div>
<div class="t" style="top:449px;left:270.30px;transform:scaleX(0.972);transform-origin:left center;">Machined Steel Piece 2_Pieza Mecaniz...</div>
<div class="t" style="top:449px;letter-spacing:0.22px;right:948.48px;text-align:right;">165,00</div>
<div class="t" style="top:449px;letter-spacing:0.22px;right:889.68px;text-align:right;">0,00</div>
<div class="t" style="top:449px;color:#fff;letter-spacing:0.22px;right:821.48px;text-align:right;">-165,00</div>
<div style="left:198px;top:465.26px;width:457.5px;height:20.33px;background:#f4f4f4"></div>
<div style="left:587.8px;top:465.56px;width:67.7px;height:20.029999999999998px;background:#c4504e"></div>
<div style="left:198px;top:485.09px;width:457.5px;height:1px;background:#e3e3e3;opacity:.8"></div>
<div class="t" style="top:469px;left:200.60px;">SA156</div>
<div class="t" style="top:469px;left:270.30px;transform:scaleX(0.972);transform-origin:left center;">Painted Steel Piece 1_Pieza Pintada d...</div>
<div class="t" style="top:469px;letter-spacing:0.22px;right:948.48px;text-align:right;">165,00</div>
<div class="t" style="top:469px;letter-spacing:0.22px;right:889.68px;text-align:right;">0,00</div>
<div class="t" style="top:469px;color:#fff;letter-spacing:0.22px;right:821.48px;text-align:right;">-165,00</div>
<div style="left:198px;top:485.59000000000003px;width:457.5px;height:20.33px;background:#fff"></div>
<div style="left:587.8px;top:485.89000000000004px;width:67.7px;height:20.029999999999998px;background:#c4504e"></div>
<div style="left:198px;top:505.42px;width:457.5px;height:1px;background:#e3e3e3;opacity:.8"></div>
<div class="t" style="top:490px;left:200.60px;">SA157</div>
<div class="t" style="top:490px;left:270.30px;transform:scaleX(0.972);transform-origin:left center;">Treated Steel Piece 2_Pieza Tratada d...</div>
<div class="t" style="top:490px;letter-spacing:0.22px;right:948.48px;text-align:right;">165,00</div>
<div class="t" style="top:490px;letter-spacing:0.22px;right:889.68px;text-align:right;">0,00</div>
<div class="t" style="top:490px;color:#fff;letter-spacing:0.22px;right:821.48px;text-align:right;">-165,00</div>
<div style="left:198px;top:505.92px;width:457.5px;height:20.33px;background:#f4f4f4"></div>
<div style="left:587.8px;top:506.22px;width:67.7px;height:20.029999999999998px;background:#c4504e"></div>
<div style="left:198px;top:525.75px;width:457.5px;height:1px;background:#e3e3e3;opacity:.8"></div>
<div class="t" style="top:510px;left:200.60px;">SA158</div>
<div class="t" style="top:510px;left:270.30px;transform:scaleX(0.972);transform-origin:left center;">Painted Steel Piece 2_Pieza Pintada d...</div>
<div class="t" style="top:510px;letter-spacing:0.22px;right:948.48px;text-align:right;">165,00</div>
<div class="t" style="top:510px;letter-spacing:0.22px;right:889.68px;text-align:right;">0,00</div>
<div class="t" style="top:510px;color:#fff;letter-spacing:0.22px;right:821.48px;text-align:right;">-165,00</div>
<div style="left:198px;top:526.25px;width:457.5px;height:20.33px;background:#fff"></div>
<div style="left:587.8px;top:526.55px;width:67.7px;height:20.029999999999998px;background:#c4504e"></div>
<div class="t" style="top:530px;left:200.60px;">SA361</div>
<div class="t" style="top:530px;left:270.30px;transform:scaleX(0.972);transform-origin:left center;">Grown BL21(DE3) Bacteria</div>
<div class="t" style="top:530px;letter-spacing:0.22px;right:948.48px;text-align:right;">160,00</div>
<div class="t" style="top:530px;letter-spacing:0.22px;right:889.68px;text-align:right;">0,00</div>
<div class="t" style="top:530px;color:#fff;letter-spacing:0.22px;right:821.48px;text-align:right;">-160,00</div>
<div style="left:266.2px;top:425px;width:1px;height:121.97999999999999px;background:#e3e3e3;opacity:.8"></div>
<div style="left:460.0px;top:425px;width:1px;height:121.97999999999999px;background:#e3e3e3;opacity:.8"></div>
<div style="left:528.2px;top:425px;width:1px;height:121.97999999999999px;background:#e3e3e3;opacity:.8"></div>
<div style="left:656px;top:425px;width:15px;height:121px;background:#f3f3f3"></div><div style="left:657px;top:426px;width:13px;height:15px;background:#fff;border:1px solid #c6c6c6"></div><div style="left:657px;top:530px;width:13px;height:15px;background:#fff;border:1px solid #c6c6c6"></div><div style="left:657px;top:455px;width:13px;height:16px;background:#fff;border:1px solid #c6c6c6"></div><svg style="left:660.0px;top:431.6px" width="7" height="4" viewBox="0 0 7 4"><path d="M3.5 0 L7 4 H0 Z" fill="#8a8a8a"/></svg><svg style="left:660.0px;top:535.8px" width="7" height="4" viewBox="0 0 7 4"><path d="M0 0 H7 L3.5 4 Z" fill="#8a8a8a"/></svg>
<div class="h" style="top:372px;color:#2580d3;left:682.60px;transform:scaleX(0.886);transform-origin:left center;">Operators</div><svg style="left:941.6999999999999px;top:375.79999999999995px;opacity:1" width="17" height="17" viewBox="0 0 17 17"><path d="M5.1 6 H1.6 Q1.2 6 1.2 6.4 V14.2 Q1.2 14.6 1.6 14.6 H14.4 Q14.8 14.6 14.8 14.2 V6.4 Q14.8 6 14.4 6 H10.9" fill="none" stroke="#444" stroke-width="1.8"/><path d="M8 2.2 V10.2" fill="none" stroke="#444" stroke-width="1.7"/><path d="M8 0 L10.8 3.4 H5.2 Z" fill="#444"/></svg><svg style="left:967.3px;top:375.79999999999995px" width="17" height="17" viewBox="0 0 17 17"><path d="M0 0.8 H14.4 L8.3 7.2 V14.8 H6.4 V7.2 Z" fill="#ababab"/><path d="M10.2 10 L14.6 14.6 M14.6 10 L10.2 14.6" stroke="#b9b9b9" stroke-width="1.1" fill="none"/></svg><svg style="left:993.0999999999999px;top:376.7px" width="14" height="13.6" viewBox="0 0 14 13.6" fill="#444" stroke="#444" stroke-width="0"><g><path d="M0 0 H3.8 L0 3.8 Z"/><path d="M1 1 L4.3 4.3" stroke-width="1.5" fill="none"/></g><g transform="translate(14,0) scale(-1,1)"><path d="M0 0 H3.8 L0 3.8 Z"/><path d="M1 1 L4.3 4.3" stroke-width="1.5" fill="none"/></g><g transform="translate(0,13.6) scale(1,-1)"><path d="M0 0 H3.8 L0 3.8 Z"/><path d="M1 1 L4.3 4.3" stroke-width="1.5" fill="none"/></g><g transform="translate(14,13.6) scale(-1,-1)"><path d="M0 0 H3.8 L0 3.8 Z"/><path d="M1 1 L4.3 4.3" stroke-width="1.5" fill="none"/></g></svg>
<div style="left:683px;top:401px;width:329.79999999999995px;height:3px;background:linear-gradient(#f1f1f1,#dbdbdb 40%,#dbdbdb 60%,#eee)"></div><div style="left:683px;top:424px;width:329.79999999999995px;height:1px;background:#b4b4b4"></div><div class="t" style="top:407px;color:#7d7d7d;left:684.90px;">Status</div><div style="left:797.0px;top:405.2px;width:1px;height:18px;background:#bdbdbd"></div><div class="t" style="top:407px;color:#7d7d7d;left:800.50px;">Operator</div><div style="left:885.3px;top:405.2px;width:1px;height:18px;background:#bdbdbd"></div><div class="t" style="top:407px;color:#7d7d7d;left:888.80px;">Since</div>
<div style="left:997.0px;top:405.2px;width:1px;height:18px;background:#bdbdbd"></div>
<div style="left:683px;top:425px;width:314.5px;height:20.1px;background:#fff"></div>
<div style="left:683px;top:444.6px;width:314.5px;height:1px;background:#e3e3e3;opacity:.8"></div>
<div class="t" style="top:426px;left:687.20px;">Active</div>
<svg style="left:779.6px;top:425.3px" width="15" height="15" viewBox="0 0 15 15"><rect width="15" height="15" rx="1" fill="#4b4b4b"/><circle cx="7.5" cy="7.5" r="5.8" fill="#fff"/><circle cx="7.5" cy="7.5" r="4.1" fill="#2c9048"/></svg>
<div class="t" style="top:427px;left:802.30px;transform:scaleX(0.95);transform-origin:left center;">James  Bond</div>
<div class="t" style="top:427px;letter-spacing:0.22px;left:891.00px;">01/05/2021 12:45:00</div>
<div style="left:683px;top:445.1px;width:314.5px;height:20.2px;background:#f4f4f4"></div>
<div style="left:683px;top:464.8px;width:314.5px;height:1px;background:#e3e3e3;opacity:.8"></div>
<div class="t" style="top:446px;left:687.20px;">Interrupted</div>
<svg style="left:779.6px;top:445.40000000000003px" width="15" height="15" viewBox="0 0 15 15"><rect width="15" height="15" rx="1" fill="#4b4b4b"/><circle cx="7.5" cy="7.5" r="5.8" fill="#fff"/><circle cx="7.5" cy="7.5" r="4.1" fill="#ee2d32"/></svg>
<div class="t" style="top:447px;left:802.30px;transform:scaleX(0.95);transform-origin:left center;">James  Bond</div>
<div class="t" style="top:447px;letter-spacing:0.22px;left:891.00px;">01/05/2021 17:01:00</div>
<div style="left:683px;top:465.3px;width:314.5px;height:20.3px;background:#fff"></div>
<div style="left:683px;top:485.1px;width:314.5px;height:1px;background:#e3e3e3;opacity:.8"></div>
<div class="t" style="top:466px;left:687.20px;">Free</div>
<div class="t" style="top:467px;left:802.30px;transform:scaleX(0.95);transform-origin:left center;">Ana test test</div>
<div class="t" style="top:467px;left:891.00px;"></div>
<div style="left:683px;top:485.6px;width:314.5px;height:19.8px;background:#f4f4f4"></div>
<div style="left:683px;top:504.90000000000003px;width:314.5px;height:1px;background:#e3e3e3;opacity:.8"></div>
<div class="t" style="top:487px;left:687.20px;">Free</div>
<div class="t" style="top:488px;left:802.30px;transform:scaleX(0.95);transform-origin:left center;">Carlos Test</div>
<div class="t" style="top:488px;letter-spacing:0.22px;left:891.00px;">01/07/2020 0:00:00</div>
<div style="left:683px;top:505.40000000000003px;width:314.5px;height:32.3px;background:#fff"></div>
<div style="left:683px;top:537.2px;width:314.5px;height:1px;background:#e3e3e3;opacity:.8"></div>
<div class="t" style="top:507px;left:687.20px;">Free</div>
<div class="t" style="top:508px;left:802.30px;transform:scaleX(0.95);transform-origin:left center;">Name Second</div>
<div class="t" style="top:520px;left:802.30px;transform:scaleX(0.95);transform-origin:left center;">Last</div>
<div class="t" style="top:508px;letter-spacing:0.22px;left:891.00px;">07/06/2021 10:00:00</div>
<div style="left:683px;top:537.7px;width:314.5px;height:20px;background:#f4f4f4"></div>
<div style="left:683px;top:557.2px;width:314.5px;height:1px;background:#e3e3e3;opacity:.8"></div>
<div class="t" style="top:539px;left:687.20px;">Free</div>
<div class="t" style="top:540px;left:802.30px;transform:scaleX(0.95);transform-origin:left center;">Nombre   Apellido</div>
<div class="t" style="top:540px;letter-spacing:0.22px;left:891.00px;">09/06/2021 10:00:00</div>
<div style="left:797.0px;top:425px;width:1px;height:125px;background:#e3e3e3;opacity:.8"></div>
<div style="left:885.3px;top:425px;width:1px;height:125px;background:#e3e3e3;opacity:.8"></div>
<div style="left:997px;top:425px;width:16px;height:121px;background:#f3f3f3"></div><div style="left:998px;top:426px;width:14px;height:15px;background:#fff;border:1px solid #c6c6c6"></div><div style="left:998px;top:530px;width:14px;height:15px;background:#fff;border:1px solid #c6c6c6"></div><div style="left:998px;top:441px;width:14px;height:32px;background:#fff;border:1px solid #c6c6c6"></div><svg style="left:1001.5px;top:431.6px" width="7" height="4" viewBox="0 0 7 4"><path d="M3.5 0 L7 4 H0 Z" fill="#8a8a8a"/></svg><svg style="left:1001.5px;top:535.8px" width="7" height="4" viewBox="0 0 7 4"><path d="M0 0 H7 L3.5 4 Z" fill="#8a8a8a"/></svg>
<div class="h" style="top:372px;color:#2580d3;left:1024.80px;transform:scaleX(0.83);transform-origin:left center;">Resources</div><svg style="left:1387.7px;top:375.79999999999995px;opacity:1" width="17" height="17" viewBox="0 0 17 17"><path d="M5.1 6 H1.6 Q1.2 6 1.2 6.4 V14.2 Q1.2 14.6 1.6 14.6 H14.4 Q14.8 14.6 14.8 14.2 V6.4 Q14.8 6 14.4 6 H10.9" fill="none" stroke="#444" stroke-width="1.8"/><path d="M8 2.2 V10.2" fill="none" stroke="#444" stroke-width="1.7"/><path d="M8 0 L10.8 3.4 H5.2 Z" fill="#444"/></svg><svg style="left:1413.3px;top:375.79999999999995px" width="17" height="17" viewBox="0 0 17 17"><path d="M0 0.8 H14.4 L8.3 7.2 V14.8 H6.4 V7.2 Z" fill="#ababab"/><path d="M10.2 10 L14.6 14.6 M14.6 10 L10.2 14.6" stroke="#b9b9b9" stroke-width="1.1" fill="none"/></svg><svg style="left:1439.1px;top:376.7px" width="14" height="13.6" viewBox="0 0 14 13.6" fill="#444" stroke="#444" stroke-width="0"><g><path d="M0 0 H3.8 L0 3.8 Z"/><path d="M1 1 L4.3 4.3" stroke-width="1.5" fill="none"/></g><g transform="translate(14,0) scale(-1,1)"><path d="M0 0 H3.8 L0 3.8 Z"/><path d="M1 1 L4.3 4.3" stroke-width="1.5" fill="none"/></g><g transform="translate(0,13.6) scale(1,-1)"><path d="M0 0 H3.8 L0 3.8 Z"/><path d="M1 1 L4.3 4.3" stroke-width="1.5" fill="none"/></g><g transform="translate(14,13.6) scale(-1,-1)"><path d="M0 0 H3.8 L0 3.8 Z"/><path d="M1 1 L4.3 4.3" stroke-width="1.5" fill="none"/></g></svg>
<div style="left:1025.3px;top:401px;width:433.5px;height:3px;background:linear-gradient(#f1f1f1,#dbdbdb 40%,#dbdbdb 60%,#eee)"></div><div style="left:1025.3px;top:424px;width:433.5px;height:1px;background:#b4b4b4"></div><div class="t" style="top:407px;color:#7d7d7d;left:1027.20px;">Status</div><div style="left:1153.1px;top:405.2px;width:1px;height:18px;background:#bdbdbd"></div><div class="t" style="top:407px;color:#7d7d7d;left:1156.60px;">Resource Name</div><div style="left:1328.4px;top:405.2px;width:1px;height:18px;background:#bdbdbd"></div><div class="t" style="top:407px;color:#7d7d7d;left:1331.90px;">Since</div>
<div style="left:1443.0px;top:405.2px;width:1px;height:18px;background:#bdbdbd"></div>
<div style="left:1025.3px;top:425px;width:418.20000000000005px;height:20.1px;background:#fff"></div>
<div style="left:1025.3px;top:444.6px;width:418.20000000000005px;height:1px;background:#e3e3e3;opacity:.8"></div>
<div class="t" style="top:426px;left:1029.50px;">Setting-up</div>
<svg style="left:1136.2px;top:425.3px" width="15" height="15" viewBox="0 0 15 15"><rect width="15" height="15" rx="1" fill="#4b4b4b"/><circle cx="7.5" cy="7.5" r="5.8" fill="#fff"/><circle cx="7.5" cy="7.5" r="4.1" fill="#ff9a33"/></svg>
<div class="t" style="top:427px;left:1158.20px;">CNC Machining 02 - 2 Axis</div>
<div class="t" style="top:427px;letter-spacing:0.22px;left:1333.90px;">10/06/2021 10:49:00</div>
<div style="left:1025.3px;top:445.1px;width:418.20000000000005px;height:20.2px;background:#f4f4f4"></div>
<div style="left:1025.3px;top:464.8px;width:418.20000000000005px;height:1px;background:#e3e3e3;opacity:.8"></div>
<div class="t" style="top:446px;left:1029.50px;">Active</div>
<svg style="left:1136.2px;top:445.40000000000003px" width="15" height="15" viewBox="0 0 15 15"><rect width="15" height="15" rx="1" fill="#4b4b4b"/><circle cx="7.5" cy="7.5" r="5.8" fill="#fff"/><circle cx="7.5" cy="7.5" r="4.1" fill="#2c9048"/></svg>
<div class="t" style="top:447px;left:1158.20px;">Blasting_Chorreado_Jateadora</div>
<div class="t" style="top:447px;letter-spacing:0.22px;left:1333.90px;">15/12/2020 17:02:00</div>
<div style="left:1025.3px;top:465.3px;width:418.20000000000005px;height:31.5px;background:#fff"></div>
<div style="left:1025.3px;top:496.3px;width:418.20000000000005px;height:1px;background:#e3e3e3;opacity:.8"></div>
<div class="t" style="top:466px;left:1029.50px;">Active</div>
<svg style="left:1136.2px;top:465.6px" width="15" height="15" viewBox="0 0 15 15"><rect width="15" height="15" rx="1" fill="#4b4b4b"/><circle cx="7.5" cy="7.5" r="5.8" fill="#fff"/><circle cx="7.5" cy="7.5" r="4.1" fill="#2c9048"/></svg>
<div class="t" style="top:467px;left:1158.20px;">CNC</div>
<div class="t" style="top:480px;left:1158.20px;">Machining_Mecanizado_Usinagem</div>
<div class="t" style="top:467px;letter-spacing:0.22px;left:1333.90px;">08/04/2019 15:31:00</div>
<div style="left:1025.3px;top:496.8px;width:418.20000000000005px;height:20.2px;background:#f4f4f4"></div>
<div style="left:1025.3px;top:516.5px;width:418.20000000000005px;height:1px;background:#e3e3e3;opacity:.8"></div>
<div class="t" style="top:498px;left:1029.50px;">Active</div>
<svg style="left:1136.2px;top:497.1px" width="15" height="15" viewBox="0 0 15 15"><rect width="15" height="15" rx="1" fill="#4b4b4b"/><circle cx="7.5" cy="7.5" r="5.8" fill="#fff"/><circle cx="7.5" cy="7.5" r="4.1" fill="#2c9048"/></svg>
<div class="t" style="top:499px;left:1158.20px;">Cutting Machine 1</div>
<div class="t" style="top:499px;letter-spacing:0.22px;left:1333.90px;">27/07/2021 15:00:00</div>
<div style="left:1025.3px;top:517.0px;width:418.20000000000005px;height:20.4px;background:#fff"></div>
<div style="left:1025.3px;top:536.9px;width:418.20000000000005px;height:1px;background:#e3e3e3;opacity:.8"></div>
<div class="t" style="top:518px;left:1029.50px;">Active</div>
<svg style="left:1136.2px;top:517.3px" width="15" height="15" viewBox="0 0 15 15"><rect width="15" height="15" rx="1" fill="#4b4b4b"/><circle cx="7.5" cy="7.5" r="5.8" fill="#fff"/><circle cx="7.5" cy="7.5" r="4.1" fill="#2c9048"/></svg>
<div class="t" style="top:519px;left:1158.20px;">Mill 2</div>
<div class="t" style="top:519px;letter-spacing:0.22px;left:1333.90px;">13/04/2021 12:00:00</div>
<div style="left:1025.3px;top:537.4px;width:418.20000000000005px;height:20px;background:#f4f4f4"></div>
<div style="left:1025.3px;top:556.9px;width:418.20000000000005px;height:1px;background:#e3e3e3;opacity:.8"></div>
<div class="t" style="top:539px;left:1029.50px;">Active</div>
<svg style="left:1136.2px;top:537.6999999999999px" width="15" height="15" viewBox="0 0 15 15"><rect width="15" height="15" rx="1" fill="#4b4b4b"/><circle cx="7.5" cy="7.5" r="5.8" fill="#fff"/><circle cx="7.5" cy="7.5" r="4.1" fill="#2c9048"/></svg>
<div class="t" style="top:540px;left:1158.20px;">Packaging_Empacado_Embalagem</div>
<div class="t" style="top:540px;letter-spacing:0.22px;left:1333.90px;">21/07/2021 16:46:00</div>
<div style="left:1153.1px;top:425px;width:1px;height:125px;background:#e3e3e3;opacity:.8"></div>
<div style="left:1328.4px;top:425px;width:1px;height:125px;background:#e3e3e3;opacity:.8"></div>
<div style="left:1443px;top:425px;width:16px;height:121px;background:#f3f3f3"></div><div style="left:1444px;top:426px;width:14px;height:15px;background:#fff;border:1px solid #c6c6c6"></div><div style="left:1444px;top:530px;width:14px;height:15px;background:#fff;border:1px solid #c6c6c6"></div><div style="left:1444px;top:441px;width:14px;height:16px;background:#fff;border:1px solid #c6c6c6"></div><svg style="left:1447.5px;top:431.6px" width="7" height="4" viewBox="0 0 7 4"><path d="M3.5 0 L7 4 H0 Z" fill="#8a8a8a"/></svg><svg style="left:1447.5px;top:535.8px" width="7" height="4" viewBox="0 0 7 4"><path d="M0 0 H7 L3.5 4 Z" fill="#8a8a8a"/></svg>
</div>
<svg style="left:230px;top:405px;filter:drop-shadow(1px 1.5px 1px rgba(0,0,0,.35))" width="120" height="45" viewBox="230 405 120 45"><path d="M241.7 433.9 L261.8 423 L263 428.4 L335.9 415.1 L336.9 419.5 L264.5 432.1 L265.8 437.7 Z" fill="#f90f13"/></svg>
</div></body></html>
